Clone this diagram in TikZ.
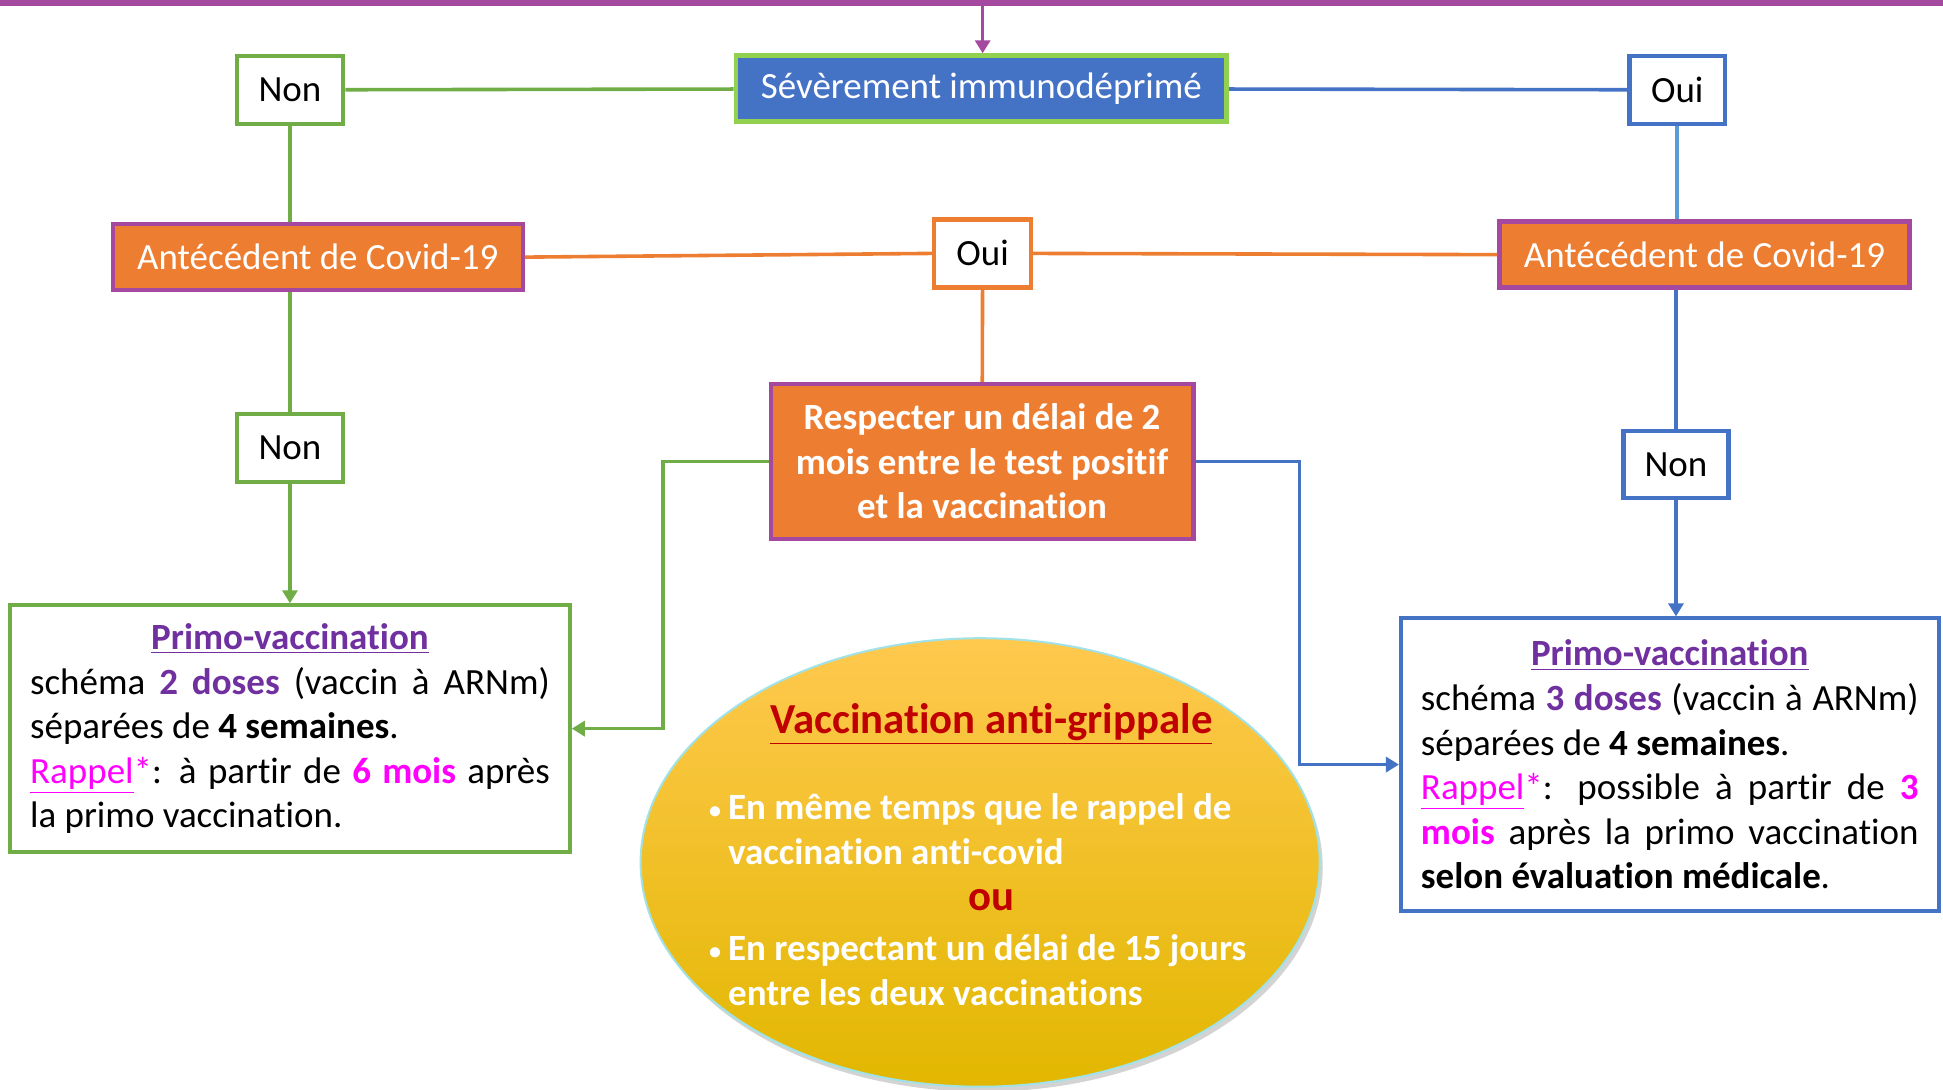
\documentclass[tikz,border=0pt]{standalone}
\usepackage{fontspec}
\setmainfont[Ligatures=NoCommon]{Carlito}
\usepackage{xcolor}
\usetikzlibrary{arrows.meta,shapes.geometric,shadows}
\definecolor{cgreen}{HTML}{70AD47}
\definecolor{clime}{HTML}{92D050}
\definecolor{cblue}{HTML}{4472C4}
\definecolor{clblue}{HTML}{5B9BD5}
\definecolor{corange}{HTML}{ED7D31}
\definecolor{cpurple}{HTML}{A5489F}
\definecolor{ctitle}{HTML}{7030A0}
\definecolor{cmagenta}{HTML}{FF00FF}
\definecolor{cred}{HTML}{C00000}
\definecolor{ccyan}{HTML}{A0E2E8}
\definecolor{ytop}{HTML}{FFC94F}
\definecolor{ymid}{HTML}{FCC000}
\definecolor{ybot}{HTML}{E2B700}
\newcommand{\boxfont}{\fontsize{18.5}{22.3}\selectfont}
\newcommand{\flubullet}{\makebox[9.5pt][l]{\raisebox{0.5pt}{\fontsize{12}{12}\selectfont\textbullet}}}

\begin{document}
\begin{tikzpicture}[x=0.62pt,y=-0.62pt,
  every node/.style={font=\boxfont},
  yesno/.style={draw,line width=2.2pt,fill=white,minimum height=34pt,inner sep=0pt},
  question/.style={draw=cpurple,line width=2.2pt,fill=corange,text=white,minimum height=33pt,inner sep=0pt},
  primo/.style={draw,line width=2pt,fill=white,align=justify,inner xsep=10pt,inner ysep=0pt},
  conn/.style={line width=1.8pt},
  connarrow/.style={line width=1.8pt,-{Triangle[width=7.5pt,length=6.5pt]}},
  flutext/.style={text=white,font=\boxfont\bfseries,inner sep=0pt},
  flured/.style={text=cred,font=\fontsize{21.4}{25}\selectfont\bfseries,inner sep=0pt}]
\useasboundingbox (0,0) rectangle (1568,879);

\node[yesno,draw=cgreen,minimum width=53.3pt] (nonA) at (234,72.5) {Non};
\node[draw=clime,line width=2.4pt,fill=cblue,text=white,minimum width=245.5pt,minimum height=32.9pt,inner sep=0pt] (sev) at (792,71.5) {Sévèrement immunodéprimé};
\node[yesno,draw=cblue,minimum width=47.7pt] (ouiA) at (1353.5,72.5) {Oui};

\node[question,minimum width=205pt] (antL) at (256.5,207.5) {Antécédent de Covid-19};
\node[yesno,draw=corange,minimum width=48.4pt] (ouiC) at (793,204.5) {Oui};
\node[question,minimum width=205pt] (antR) at (1375.5,205.5) {Antécédent de Covid-19};

\node[question,minimum width=211.4pt,minimum height=77.5pt,align=center,font=\boxfont\bfseries] (resp) at (792.5,372.5) {Respecter un délai de 2\\mois entre le test positif\\et la vaccination};

\node[yesno,draw=cgreen,minimum width=53.3pt] (nonB) at (234,361.5) {Non};
\node[yesno,draw=cblue,minimum width=52.7pt,minimum height=33.5pt] (nonC) at (1352.5,375) {Non};

\node[primo,draw=cgreen,text width=260pt,minimum height=123.4pt] (primoL) at (234,588) {\makebox[\linewidth]{\bfseries\color{ctitle}\underline{Primo-vaccination}}\par
schéma \textcolor{ctitle}{\textbf{2 doses}} (vaccin à ARNm)\linebreak séparées de \textbf{4 semaines}.\newline
\textcolor{cmagenta}{\underline{Rappel}*}: à partir de \textcolor{cmagenta}{\textbf{6 mois}} après\linebreak la primo vaccination.};

\node[primo,draw=cblue,text width=249pt,minimum height=146.3pt] (primoR) at (1347.5,617) {\makebox[\linewidth]{\bfseries\color{ctitle}\underline{Primo-vaccination}}\par
schéma \textcolor{ctitle}{\textbf{3 doses}} (vaccin à ARNm)\linebreak séparées de \textbf{4 semaines}.\newline
\textcolor{cmagenta}{\underline{Rappel}*}: possible à partir de \textcolor{cmagenta}{\textbf{3}}\linebreak \textcolor{cmagenta}{\textbf{mois}} après la primo vaccination\linebreak \textbf{selon évaluation médicale}.};

\node[ellipse,draw=ccyan,line width=1pt,minimum width=339.8pt,minimum height=224.4pt,top color=ytop,middle color=ymid,bottom color=ybot,drop shadow={shadow xshift=1.5pt,shadow yshift=-2.5pt,opacity=0.35}] (flu) at (791,696) {};
\node[flured] (fluTitle) at (800,584) {\underline{Vaccination anti-grippale}};
\node[flutext,anchor=west,align=left] (fluA) at (572,669) {\flubullet En même temps que le rappel de\\\hspace*{9.5pt}vaccination anti-covid};
\node[flured] (fluOu) at (800,726) {ou};
\node[flutext,anchor=west,align=left] (fluB) at (572,783) {\flubullet En respectant un délai de 15 jours\\\hspace*{9.5pt}entre les deux vaccinations};

\coordinate (barL) at (0,2.5);
\coordinate (barR) at (1568,2.5);
\coordinate (topin) at (793,3);
\draw[line width=3.2pt,cpurple] (barL) -- (barR);
\draw[connarrow,cpurple] (topin) -- (topin |- sev.north);

\draw[conn,cgreen] (nonA) -- (sev);
\draw[conn,cblue] (sev) -- (ouiA);
\draw[conn,cgreen] (nonA) -- (nonA |- antL.north);
\draw[conn,clblue] (ouiA) -- (ouiA |- antR.north);
\draw[conn,corange] (antL.east) -- (ouiC.west);
\draw[conn,corange] (ouiC.east) -- (antR.west);
\draw[conn,corange] (ouiC) -- (resp);
\draw[conn,cgreen] (nonB) -- (nonB |- antL.south);
\draw[connarrow,cgreen] (nonB) -- (nonB |- primoL.north);
\draw[conn,cblue] (nonC) -- (nonC |- antR.south);
\draw[connarrow,cblue] (nonC) -- (nonC |- primoR.north);
\draw[connarrow,cgreen] (resp.west) -- ++(-85,0) |- (primoL.east);
\draw[connarrow,cblue] (resp.east) -- ++(84,0) |- (primoR.west);
\end{tikzpicture}
\end{document}
